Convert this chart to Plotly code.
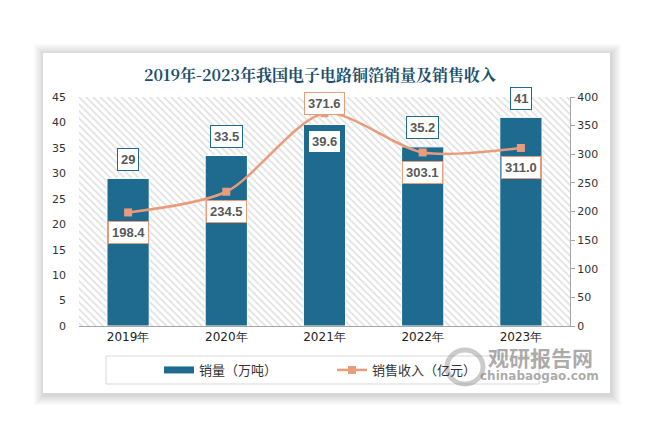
import plotly.graph_objects as go

# ---------------- data ----------------
years = ["2019年", "2020年", "2021年", "2022年", "2023年"]
sales_volume = [29, 33.5, 39.6, 35.2, 41]          # 销量（万吨）
sales_revenue = [198.4, 234.5, 371.6, 303.1, 311.0]  # 销售收入（亿元）
volume_labels = ["29", "33.5", "39.6", "35.2", "41"]
revenue_labels = ["198.4", "234.5", "371.6", "303.1", "311.0"]
left_ticks = [0, 5, 10, 15, 20, 25, 30, 35, 40, 45]
right_ticks = [0, 50, 100, 150, 200, 250, 300, 350, 400]

title_text = "2019年-2023年我国电子电路铜箔销量及销售收入"
name_volume = "销量（万吨）"
name_revenue = "销售收入（亿元）"

# ---------------- style ----------------
W, H = 655, 436
L, R, T, B = 79, 570, 97, 326  # plot area in px
BAR_C = "#1E6B8F"
LINE_C = "#E89C7C"
TITLE_C = "#1B4F6E"
LABEL_C = "#595959"
AX_C = "#A6A6A6"
WM_C = "rgba(115,115,115,0.6)"


def px_x(p):
    return (p - L) / (R - L)


def px_y(p):
    return (B - p) / (B - T)


fig = go.Figure()

# hatched plot background on a hidden base axis pair
fig.add_trace(go.Bar(
    x=[0.5], y=[1], width=[1], xaxis="x", yaxis="y",
    marker=dict(color="white", line=dict(width=0),
                pattern=dict(shape="\\", size=5, solidity=0.3,
                             fgcolor="#BEBEBE", bgcolor="white")),
    showlegend=False, hoverinfo="skip",
))

# bars
fig.add_trace(go.Bar(
    x=years, y=sales_volume, xaxis="x2", yaxis="y2", width=0.43,
    marker=dict(color=BAR_C, line=dict(color="white", width=1)),
    name=name_volume, showlegend=False, legendgroup="v",
))
# legend proxy for bars (flat wide swatch like reference)
fig.add_trace(go.Scatter(
    x=[None], y=[None], xaxis="x2", yaxis="y2", mode="lines",
    line=dict(color=BAR_C, width=7), name=name_volume, legendgroup="v",
))

# line
fig.add_trace(go.Scatter(
    x=years, y=sales_revenue, xaxis="x2", yaxis="y3",
    mode="lines+markers", line=dict(color=LINE_C, width=2.5, shape="spline", smoothing=0.8),
    marker=dict(symbol="square", size=8, color=LINE_C),
    name=name_revenue,
))

# ---------------- annotations ----------------
ann = []
imax = sales_revenue.index(max(sales_revenue))
for i, (c, v, t) in enumerate(zip(years, sales_volume, volume_labels)):
    inside = (i == imax)
    ann.append(dict(
        x=c, y=v, xref="x2", yref="y2", text=t, showarrow=False,
        yshift=-17 if inside else 19,
        font=dict(family="Liberation Sans, Arial", size=13, color=LABEL_C, weight="bold"),
        bgcolor="white", bordercolor=BAR_C, borderwidth=1, borderpad=3,
    ))
for i, (c, v, t) in enumerate(zip(years, sales_revenue, revenue_labels)):
    above = (i == imax)
    ann.append(dict(
        x=c, y=v, xref="x2", yref="y3", text=t, showarrow=False,
        yshift=10 if above else -20,
        font=dict(family="Liberation Sans, Arial", size=13, color=LABEL_C, weight="bold"),
        bgcolor="white", bordercolor=LINE_C, borderwidth=1, borderpad=3,
    ))

# watermark
ann.append(dict(x=px_x(540), y=px_y(357), xref="paper", yref="paper", text="<b>观研报告网</b>",
                xanchor="center", yanchor="middle",
                showarrow=False, font=dict(family="Noto Sans CJK SC", size=21, color=WM_C)))
ann.append(dict(x=px_x(539), y=px_y(376), xref="paper", yref="paper", text="<b>chinabaogao.com</b>",
                xanchor="center", yanchor="middle",
                showarrow=False, font=dict(family="DejaVu Sans", size=12, color=WM_C)))

# ---------------- shapes: card shadow, card, legend box ----------------
shapes = []
for k in range(10, 0, -1):
    shapes.append(dict(type="rect", xref="paper", yref="paper", layer="below",
                       x0=px_x(43 - k + 1), x1=px_x(610 + k + 1),
                       y0=px_y(393 + k + 2), y1=px_y(53 - k + 1),
                       fillcolor="rgba(0,0,0,0.014)", line=dict(width=0)))
shapes.append(dict(type="rect", xref="paper", yref="paper", layer="below",
                   x0=px_x(43), x1=px_x(610), y0=px_y(393), y1=px_y(53),
                   fillcolor="white", line=dict(width=0)))
shapes.append(dict(type="rect", xref="paper", yref="paper", layer="below",
                   x0=px_x(106), x1=px_x(539), y0=px_y(384), y1=px_y(356),
                   fillcolor="rgba(0,0,0,0)", line=dict(color="#D9D9D9", width=1)))
# watermark logo ring
shapes.append(dict(type="circle", xref="paper", yref="paper", layer="above",
                   x0=px_x(447), x1=px_x(483), y0=px_y(384), y1=px_y(350),
                   fillcolor="rgba(0,0,0,0)", line=dict(color="rgba(125,125,125,0.4)", width=5)))

tick_font = dict(family="DejaVu Sans, Verdana", size=11, color="#333333")

fig.update_layout(
    width=W, height=H,
    margin=dict(l=L, r=W - R, t=T, b=H - B, pad=0),
    paper_bgcolor="white", plot_bgcolor="rgba(0,0,0,0)",
    barmode="overlay",
    title=dict(text="<b>" + title_text + "</b>", x=320 / W, xanchor="center",
               y=1 - 75 / H, yanchor="middle",
               font=dict(family="Noto Serif CJK SC, Noto Sans CJK SC", size=16, color=TITLE_C)),
    xaxis=dict(range=[0, 1], visible=False, fixedrange=True),
    yaxis=dict(range=[0, 1], visible=False, fixedrange=True),
    xaxis2=dict(overlaying="x", type="category", range=[-0.5, 4.5],
                showline=True, linecolor=AX_C, linewidth=1, ticks="",
                tickfont=dict(family="DejaVu Sans, Verdana", size=12, color="#222222"),
                showgrid=False, zeroline=False),
    yaxis2=dict(overlaying="y", side="left", range=[0, 45], tickvals=left_ticks,
                showgrid=False, zeroline=False, showline=False, ticks="",
                ticklabelstandoff=12, tickfont=tick_font),
    yaxis3=dict(overlaying="y", side="right", range=[0, 400], tickvals=right_ticks,
                showgrid=False, zeroline=False, showline=True, linecolor=AX_C, linewidth=1,
                ticks="outside", ticklen=4, tickcolor=AX_C, tickfont=tick_font),
    legend=dict(orientation="h", x=px_x(159), y=px_y(370), xanchor="left", yanchor="middle",
                bgcolor="rgba(0,0,0,0)", borderwidth=0, entrywidth=128,
                font=dict(family="Noto Sans CJK SC", size=13, color="#333333")),
    annotations=ann,
    shapes=shapes,
    showlegend=True,
)

fig.write_html("out.html", config={"displayModeBar": False},
               post_script="document.body.style.margin='0';")
